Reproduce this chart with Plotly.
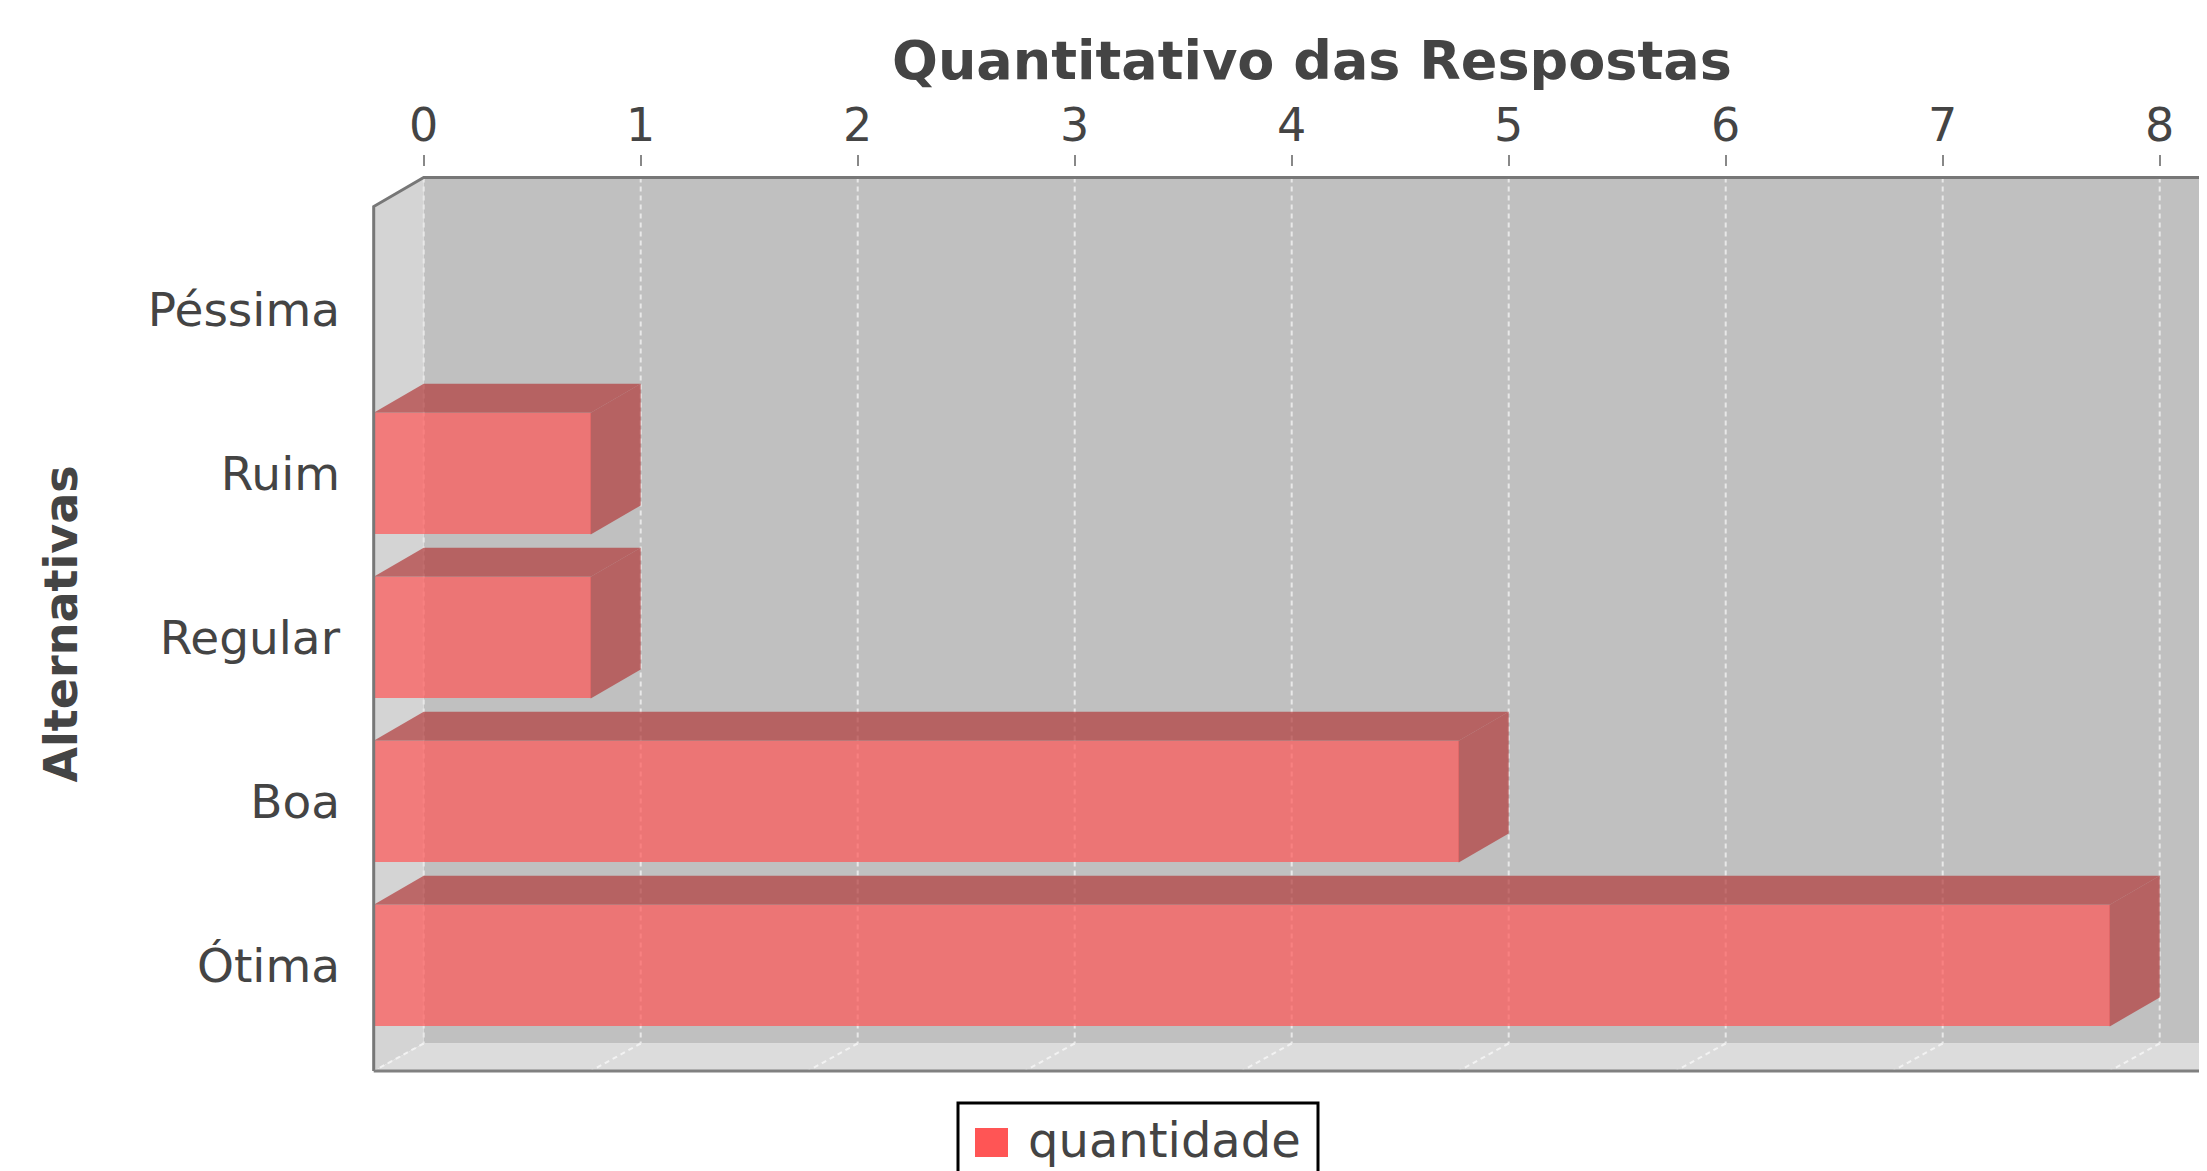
import plotly.graph_objects as go

# ---- data ----
categories = ["Péssima", "Ruim", "Regular", "Boa", "Ótima"]
quantidade = [0, 1, 1, 5, 8]
x_ticks = [0, 1, 2, 3, 4, 5, 6, 7, 8]
series_name = "quantidade"
x_title = "Quantitativo das Respostas"
y_title = "Alternativas"

# ---- layout geometry ----
OFF = 8                    # page body margin
W, H = 2199, 1163          # figure size
ML, MR, MT, MB = 362, 0, 100, 90
PW, PH = W - ML - MR, H - MT - MB
X0, SX = 423.7, 217.0      # page pixel of value 0 on back wall, pixels per unit
Y0, SY = 309.6, 164.0      # page pixel of first category centre, pixels per category


def dx(px):                # page px -> x data
    return (px - X0) / SX


def dy(py):                # page px -> y data
    return (py - Y0) / SY


def pxx(px):               # page px -> paper x
    return (px - OFF - ML) / PW


def pxy(py):               # page px -> paper y
    return (H - MB - (py - OFF)) / PH


OX = 50 / SX               # 3D depth, x (data units)
OY = 29 / SY               # 3D depth, y (category units)
YBT = dy(177.5)            # back wall top
YFB = dy(1043.5)           # back wall bottom (floor back edge)
YFF = dy(1071)             # floor front edge
XR = 8.42                  # back wall right (clipped by page edge)
HB = 0.371                 # half bar thickness

TXT = "#444444"
FONT = "DejaVu Sans"

fig = go.Figure()

# front faces of the bars
fig.add_trace(go.Bar(
    y=list(range(len(categories))), x=quantidade, base=-OX, orientation="h",
    width=2 * HB, marker=dict(color="rgba(255,85,85,0.7)", line=dict(width=0)),
    showlegend=False, name=series_name,
))

# top and side faces computed from the values
tx, ty, sx, sy = [], [], [], []
for i, v in enumerate(quantidade):
    if v <= 0:
        continue
    tx += [-OX, 0, v, v - OX, -OX, None]
    ty += [i - HB, i - HB - OY, i - HB - OY, i - HB, i - HB, None]
    sx += [v - OX, v, v, v - OX, v - OX, None]
    sy += [i - HB, i - HB - OY, i + HB - OY, i + HB, i - HB, None]

for xs, ys in ((tx, ty), (sx, sy)):
    fig.add_trace(go.Scatter(
        x=xs, y=ys, mode="lines", fill="toself",
        fillcolor="rgba(178,59,59,0.7)", line=dict(width=0, color="rgba(0,0,0,0)"),
        showlegend=False, hoverinfo="skip",
    ))

shapes = []
# back wall
shapes.append(dict(type="rect", xref="x", yref="y", x0=0, x1=XR, y0=YBT, y1=YFB,
                   fillcolor="#c0c0c0", line=dict(width=0), layer="below"))
# left wall
shapes.append(dict(type="path", xref="x", yref="y",
                   path=f"M{-OX},{YBT + OY} L0,{YBT} L0,{YFB} L{-OX},{YFF} Z",
                   fillcolor="#d4d4d4", line=dict(width=0), layer="below"))
# floor
shapes.append(dict(type="path", xref="x", yref="y",
                   path=f"M{-OX},{YFF} L0,{YFB} L{XR},{YFB} L{XR - OX},{YFF} Z",
                   fillcolor="#dcdcdc", line=dict(width=0), layer="below"))
# grid lines
for k in x_ticks:
    shapes.append(dict(type="line", xref="x", yref="y", x0=k, x1=k, y0=YBT, y1=YFB,
                       line=dict(color="#e8e8e8", width=2, dash="5px,4px"), layer="below"))
    shapes.append(dict(type="line", xref="x", yref="y", x0=k, x1=k - OX, y0=YFB, y1=YFF,
                       line=dict(color="#f2f2f2", width=2, dash="5px,4px"), layer="below"))
# outline
shapes.append(dict(type="path", xref="x", yref="y",
                   path=f"M{-OX},{YFF} L{-OX},{YBT + OY} L0,{YBT} L{XR},{YBT}",
                   line=dict(color="#777777", width=3), layer="above"))
shapes.append(dict(type="path", xref="x", yref="y",
                   path=f"M{-OX},{YFF} L{XR - OX},{YFF} L{XR},{YFB}",
                   line=dict(color="#808080", width=3), layer="above"))

# legend (box, swatch, text)
shapes.append(dict(type="rect", xref="paper", yref="paper",
                   x0=pxx(958), x1=pxx(1318), y0=pxy(1190), y1=pxy(1103),
                   fillcolor="white", line=dict(color="black", width=3)))
shapes.append(dict(type="rect", xref="paper", yref="paper",
                   x0=pxx(975), x1=pxx(1008), y0=pxy(1157), y1=pxy(1128),
                   fillcolor="#ff5555", line=dict(width=0)))

annotations = [
    dict(text=f"<b>{x_title}</b>", xref="paper", yref="paper", x=pxx(1312), y=pxy(60.5),
         xanchor="center", yanchor="middle", showarrow=False,
         font=dict(family=FONT, size=54, color=TXT)),
    dict(text=f"<b>{y_title}</b>", xref="paper", yref="paper", x=pxx(61), y=pxy(624.5),
         xanchor="center", yanchor="middle", showarrow=False, textangle=-90,
         font=dict(family=FONT, size=46, color=TXT)),
    dict(text=series_name, xref="paper", yref="paper", x=pxx(1026), y=pxy(1140),
         xanchor="left", yanchor="middle", showarrow=False,
         font=dict(family=FONT, size=48, color=TXT)),
]

fig.update_layout(
    width=W, height=H,
    margin=dict(l=ML, r=MR, t=MT, b=MB, autoexpand=False),
    paper_bgcolor="white", plot_bgcolor="white",
    shapes=shapes, annotations=annotations,
    bargap=0, showlegend=False,
    xaxis=dict(range=[dx(ML + OFF), dx(W - MR + OFF)], side="top", anchor="free",
               position=pxy(166), tickvals=x_ticks, ticktext=[str(t) for t in x_ticks],
               ticks="outside", ticklen=11, tickwidth=2, tickcolor="#888888",
               ticklabelstandoff=-4,
               showgrid=False, zeroline=False, showline=False,
               tickfont=dict(family=FONT, size=46, color=TXT)),
    yaxis=dict(range=[dy(H - MB + OFF), dy(175)], domain=[0, pxy(175)],
               tickvals=list(range(len(categories))), ticktext=categories,
               ticks="", ticklabelstandoff=29,
               showgrid=False, zeroline=False, showline=False,
               tickfont=dict(family=FONT, size=47, color=TXT)),
)

fig.write_html("out.html")
